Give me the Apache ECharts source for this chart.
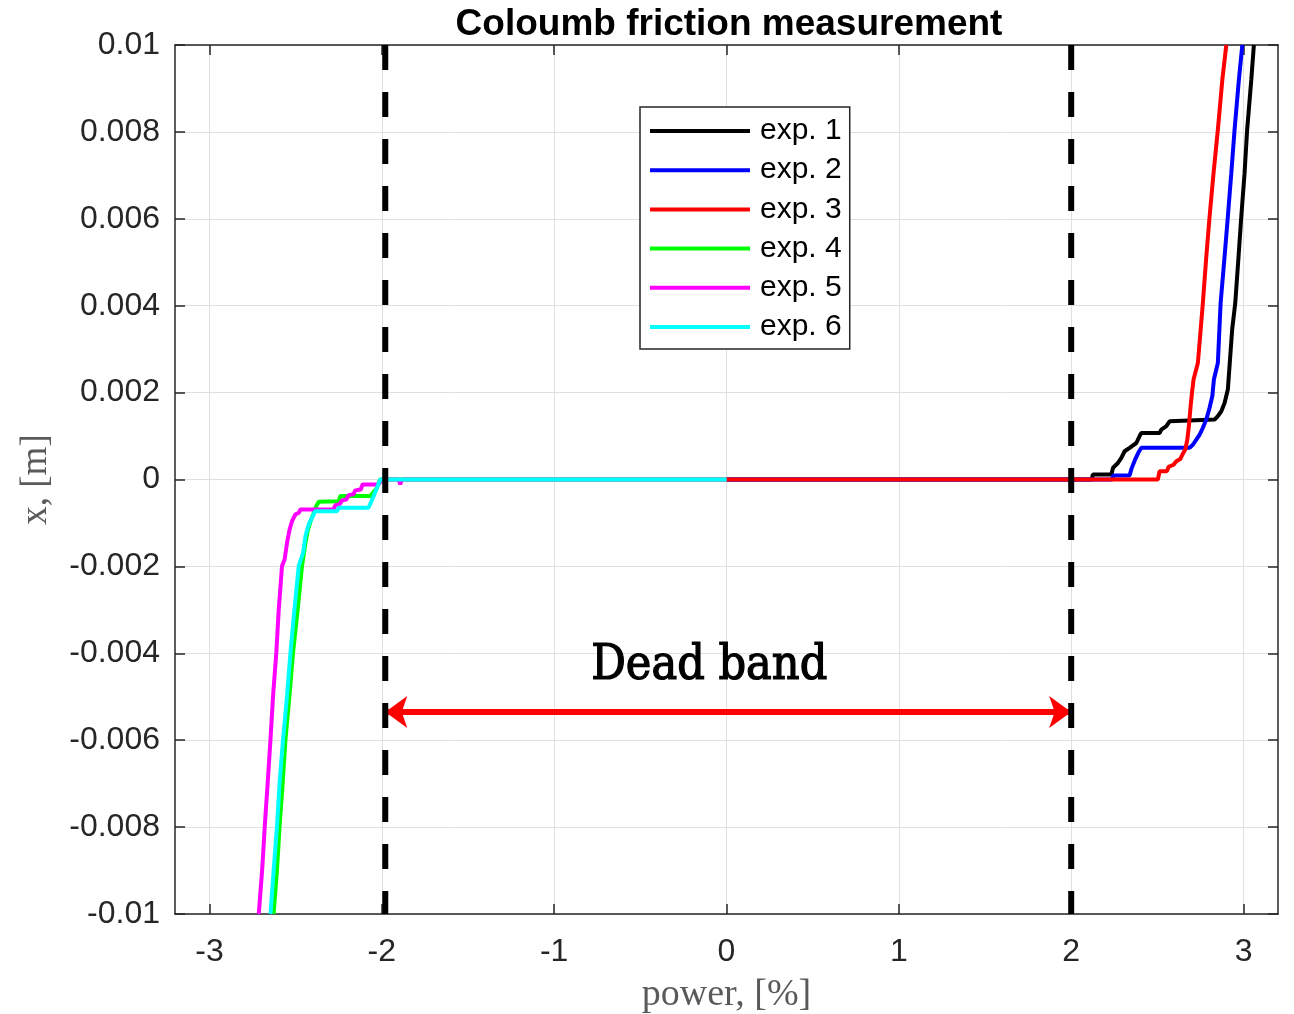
<!DOCTYPE html>
<html><head><meta charset="utf-8">
<script src="https://cdn.jsdelivr.net/npm/echarts@6/dist/echarts.min.js"></script>
<style>html,body{margin:0;padding:0;background:#fff}#c{width:1294px;height:1014px}</style>
</head><body><div id="c"></div><script>
// ---- data (power %, position m) ----
const exp1 = [[0,0],[2.12,0],[2.125,0.000115],[2.233,0.000115],[2.243,0.00027],[2.271,0.00038],[2.291,0.0005],[2.31,0.00065],[2.339,0.00073],[2.378,0.00084],[2.397,0.001],[2.407,0.00107],[2.513,0.00107],[2.523,0.00115],[2.552,0.00123],[2.571,0.00134],[2.581,0.00138],[2.832,0.00138],[2.851,0.00146],[2.871,0.00157],[2.89,0.00176],[2.909,0.00207],[2.934,0.00345],[2.952,0.00406],[2.971,0.00513],[2.987,0.00605],[3.006,0.00705],[3.021,0.00805],[3.045,0.0092],[3.06,0.01]];
const exp2 = [[0,0],[2.238,0],[2.243,0.00009],[2.339,0.00009],[2.35,0.00025],[2.37,0.00045],[2.39,0.00062],[2.407,0.00073],[2.687,0.00073],[2.706,0.0008],[2.726,0.00092],[2.745,0.00103],[2.764,0.00119],[2.784,0.00138],[2.803,0.00165],[2.819,0.00192],[2.828,0.0023],[2.851,0.00268],[2.867,0.00406],[2.89,0.00513],[2.909,0.00605],[2.929,0.00705],[2.948,0.00805],[2.973,0.0092],[2.993,0.01]];
const exp3 = [[0,0],[2.503,0],[2.513,0.00019],[2.555,0.00019],[2.565,0.00029],[2.594,0.00034],[2.61,0.00042],[2.633,0.00047],[2.645,0.00057],[2.662,0.00069],[2.674,0.00092],[2.683,0.00123],[2.693,0.00169],[2.703,0.00207],[2.71,0.0023],[2.735,0.00268],[2.764,0.00406],[2.784,0.00513],[2.803,0.00605],[2.826,0.00705],[2.851,0.00805],[2.877,0.0092],[2.9,0.01]];
const exp4 = [[0,0],[-2.01,0],[-2.03,-0.0002],[-2.066,-0.00038],[-2.241,-0.00038],[-2.25,-0.0005],[-2.366,-0.00051],[-2.38,-0.00061],[-2.395,-0.00077],[-2.41,-0.00092],[-2.428,-0.00115],[-2.443,-0.00146],[-2.463,-0.00199],[-2.488,-0.00299],[-2.515,-0.00398],[-2.536,-0.00498],[-2.559,-0.00598],[-2.575,-0.00697],[-2.593,-0.00797],[-2.608,-0.00897],[-2.628,-0.01]];
const exp5 = [[0,0],[-1.884,0],[-1.893,-0.00011],[-1.902,0],[-2.0,0],[-2.02,-0.000115],[-2.112,-0.000115],[-2.122,-0.00023],[-2.154,-0.00025],[-2.164,-0.00034],[-2.193,-0.00036],[-2.206,-0.00046],[-2.231,-0.00048],[-2.245,-0.00057],[-2.27,-0.00059],[-2.28,-0.00069],[-2.472,-0.00069],[-2.482,-0.00077],[-2.501,-0.0008],[-2.521,-0.00096],[-2.535,-0.00115],[-2.55,-0.00146],[-2.564,-0.00184],[-2.579,-0.00199],[-2.598,-0.00299],[-2.612,-0.00398],[-2.631,-0.00498],[-2.646,-0.00598],[-2.662,-0.00697],[-2.679,-0.00797],[-2.694,-0.00897],[-2.714,-0.01]];
const exp6 = [[0,0],[-2.009,0],[-2.047,-0.00038],[-2.077,-0.00065],[-2.25,-0.00065],[-2.26,-0.00073],[-2.386,-0.00073],[-2.405,-0.00088],[-2.424,-0.00103],[-2.443,-0.0013],[-2.457,-0.00169],[-2.482,-0.00199],[-2.507,-0.00299],[-2.53,-0.00398],[-2.55,-0.00498],[-2.573,-0.00598],[-2.593,-0.00697],[-2.608,-0.00797],[-2.627,-0.00897],[-2.646,-0.01]];
const seriesNames = ['exp. 1','exp. 2','exp. 3','exp. 4','exp. 5','exp. 6'];
const seriesColors = ['#000000','#0000ff','#ff0000','#00ff00','#ff00ff','#00ffff'];
const xTicks = [-3,-2,-1,0,1,2,3];
const deadBandEdges = [-1.98, 2.0];
const yRange = [-0.01, 0.01];
const arrowY = -0.00535;
const deadBandText = 'Dead band';
const deadBandLabelPos = [-0.1, -0.0043];

const allData = [exp1, exp2, exp3, exp4, exp5, exp6];
const axisColor = '#262626';
const tickFont = {fontFamily: 'Liberation Sans, Arial, sans-serif', fontSize: 32, color: axisColor};

const series = allData.map((d, i) => ({
  name: seriesNames[i], type: 'line', data: d, color: seriesColors[i],
  showSymbol: false, symbol: 'none', smooth: false, clip: true,
  lineStyle: {width: 4, color: seriesColors[i]}, animation: false, z: 2 + i
}));
deadBandEdges.forEach(x => series.push({
  type: 'line', data: [[x, yRange[1]], [x, yRange[0]]], showSymbol: false, symbol: 'none',
  lineStyle: {width: 6, color: '#000', type: [25, 22]}, animation: false, z: 20, silent: true
}));
series.push({
  type: 'line', data: [], animation: false, z: 21,
  markLine: {
    silent: true, animation: false, symbol: ['arrow', 'arrow'], symbolSize: [24, 22],
    label: {show: false},
    lineStyle: {color: '#ff0000', width: 6, type: 'solid'},
    data: [[{coord: [deadBandEdges[0], arrowY]}, {coord: [deadBandEdges[1], arrowY]}]]
  },
  markPoint: {
    silent: true, animation: false, symbol: 'circle', symbolSize: 1,
    itemStyle: {color: 'rgba(0,0,0,0)'},
    label: {show: true, position: 'inside', formatter: deadBandText, color: '#000',
            textBorderColor: '#000', textBorderWidth: 1.2,
            fontFamily: 'DejaVu Serif Condensed, DejaVu Serif, serif', fontSize: 48},
    data: [{coord: deadBandLabelPos}]
  }
});

const chart = echarts.init(document.getElementById('c'), null, {renderer: 'canvas'});
chart.setOption({
  backgroundColor: '#ffffff',
  animation: false,
  title: {text: 'Coloumb friction measurement', left: 724, top: 1, textAlign: 'center',
    textStyle: {fontFamily: 'Liberation Sans, Arial, sans-serif', fontWeight: 'bold', fontSize: 37, color: '#000'}},
  legend: {
    data: seriesNames, orient: 'vertical', left: 640, top: 107, icon: 'rect',
    itemWidth: 100, itemHeight: 4, itemGap: 9.2, padding: [9, 8, 7, 10],
    backgroundColor: '#fff', borderColor: axisColor, borderWidth: 1.5, borderRadius: 0,
    textStyle: {fontFamily: 'Liberation Sans, Arial, sans-serif', fontSize: 30, lineHeight: 30, color: '#000', padding: [0, 0, 0, 5]}
  },
  grid: {left: 175, right: 16, top: 45, bottom: 100, outerBoundsMode: 'none', show: false},
  xAxis: [{
    type: 'value', min: -3.2, max: 3.2, position: 'bottom',
    name: 'power, [%]', nameLocation: 'middle', nameGap: 62,
    nameTextStyle: {fontFamily: 'Liberation Serif, Times New Roman, serif', fontSize: 38, color: '#5a5a5a'},
    axisLine: {show: true, onZero: false, lineStyle: {color: axisColor, width: 1.5}},
    axisTick: {show: true, inside: true, length: 10, customValues: xTicks, lineStyle: {color: axisColor, width: 1.5}},
    axisLabel: {show: true, customValues: xTicks, margin: 22, ...tickFont, formatter: v => String(v)},
    splitLine: {show: true, lineStyle: {color: '#e0e0e0', width: 1}}
  }, {
    type: 'value', min: -3.2, max: 3.2, position: 'top',
    axisLine: {show: true, onZero: false, lineStyle: {color: axisColor, width: 1.5}},
    axisTick: {show: true, inside: true, length: 10, customValues: xTicks, lineStyle: {color: axisColor, width: 1.5}},
    axisLabel: {show: false}, splitLine: {show: false}
  }],
  yAxis: [{
    type: 'value', min: yRange[0], max: yRange[1], interval: 0.002, position: 'left',
    name: 'x, [m]', nameLocation: 'middle', nameGap: 120, nameRotate: 90,
    nameTextStyle: {fontFamily: 'Liberation Serif, Times New Roman, serif', fontSize: 37, color: '#5a5a5a'},
    axisLine: {show: true, onZero: false, lineStyle: {color: axisColor, width: 1.5}},
    axisTick: {show: true, inside: true, length: 10, lineStyle: {color: axisColor, width: 1.5}},
    axisLabel: {show: true, margin: 15, ...tickFont, formatter: v => String(parseFloat(v.toFixed(4)))},
    splitLine: {show: true, lineStyle: {color: '#e0e0e0', width: 1}}
  }, {
    type: 'value', min: yRange[0], max: yRange[1], interval: 0.002, position: 'right',
    axisLine: {show: true, onZero: false, lineStyle: {color: axisColor, width: 1.5}},
    axisTick: {show: true, inside: true, length: 10, lineStyle: {color: axisColor, width: 1.5}},
    axisLabel: {show: false}, splitLine: {show: false}
  }],
  series: series
});
</script></body></html>
